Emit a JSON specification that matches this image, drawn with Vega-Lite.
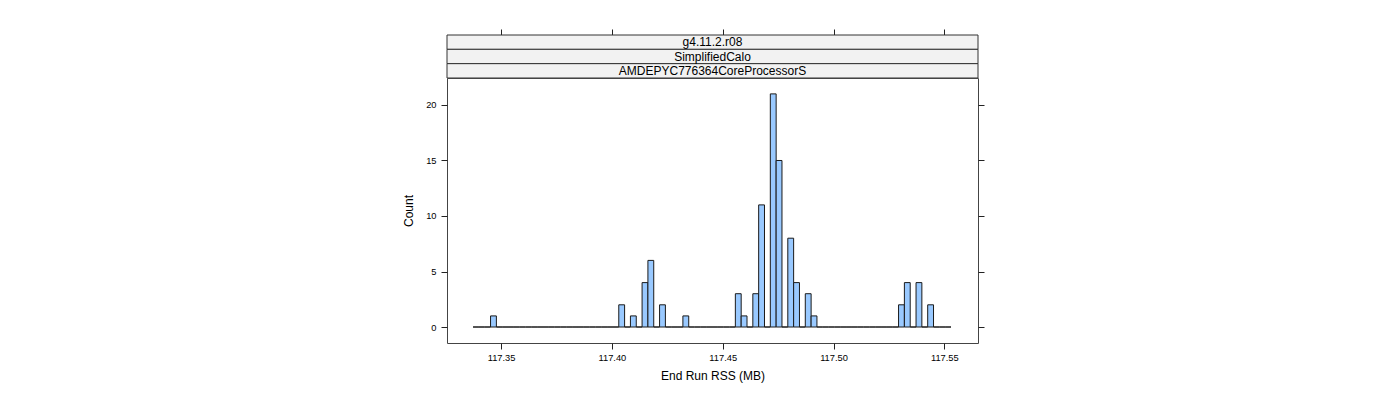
{
  "$schema": "https://vega.github.io/schema/vega-lite/v6.json",
  "autosize": {"type": "none"},
  "padding": {"left": 447, "top": 35, "right": 953, "bottom": 365},
  "background": "white",
  "config": {
    "font": "Liberation Sans",
    "view": {"stroke": "#444444", "strokeWidth": 1},
    "axis": {
      "domain": false,
      "grid": false,
      "tickColor": "#222222",
      "tickSize": 6,
      "labelColor": "black",
      "labelFont": "Liberation Sans",
      "labelFontSize": 9.3,
      "titleFont": "Liberation Sans",
      "titleFontSize": 12,
      "titleFontWeight": "normal",
      "titleColor": "black"
    }
  },
  "datasets": {
    "bins": [
      {"lo": 117.33736, "hi": 117.33999, "n": 0},
      {"lo": 117.33999, "hi": 117.34262, "n": 0},
      {"lo": 117.34262, "hi": 117.34525, "n": 0},
      {"lo": 117.34525, "hi": 117.34788, "n": 1},
      {"lo": 117.34788, "hi": 117.35051, "n": 0},
      {"lo": 117.35051, "hi": 117.35314, "n": 0},
      {"lo": 117.35314, "hi": 117.35577, "n": 0},
      {"lo": 117.35577, "hi": 117.35840, "n": 0},
      {"lo": 117.35840, "hi": 117.36103, "n": 0},
      {"lo": 117.36103, "hi": 117.36366, "n": 0},
      {"lo": 117.36366, "hi": 117.36629, "n": 0},
      {"lo": 117.36629, "hi": 117.36892, "n": 0},
      {"lo": 117.36892, "hi": 117.37155, "n": 0},
      {"lo": 117.37155, "hi": 117.37418, "n": 0},
      {"lo": 117.37418, "hi": 117.37681, "n": 0},
      {"lo": 117.37681, "hi": 117.37944, "n": 0},
      {"lo": 117.37944, "hi": 117.38207, "n": 0},
      {"lo": 117.38207, "hi": 117.38470, "n": 0},
      {"lo": 117.38470, "hi": 117.38733, "n": 0},
      {"lo": 117.38733, "hi": 117.38996, "n": 0},
      {"lo": 117.38996, "hi": 117.39259, "n": 0},
      {"lo": 117.39259, "hi": 117.39522, "n": 0},
      {"lo": 117.39522, "hi": 117.39785, "n": 0},
      {"lo": 117.39785, "hi": 117.40048, "n": 0},
      {"lo": 117.40048, "hi": 117.40311, "n": 0},
      {"lo": 117.40311, "hi": 117.40574, "n": 2},
      {"lo": 117.40574, "hi": 117.40837, "n": 0},
      {"lo": 117.40837, "hi": 117.41100, "n": 1},
      {"lo": 117.41100, "hi": 117.41363, "n": 0},
      {"lo": 117.41363, "hi": 117.41626, "n": 4},
      {"lo": 117.41626, "hi": 117.41889, "n": 6},
      {"lo": 117.41889, "hi": 117.42152, "n": 0},
      {"lo": 117.42152, "hi": 117.42415, "n": 2},
      {"lo": 117.42415, "hi": 117.42678, "n": 0},
      {"lo": 117.42678, "hi": 117.42941, "n": 0},
      {"lo": 117.42941, "hi": 117.43204, "n": 0},
      {"lo": 117.43204, "hi": 117.43467, "n": 1},
      {"lo": 117.43467, "hi": 117.43730, "n": 0},
      {"lo": 117.43730, "hi": 117.43993, "n": 0},
      {"lo": 117.43993, "hi": 117.44256, "n": 0},
      {"lo": 117.44256, "hi": 117.44519, "n": 0},
      {"lo": 117.44519, "hi": 117.44782, "n": 0},
      {"lo": 117.44782, "hi": 117.45045, "n": 0},
      {"lo": 117.45045, "hi": 117.45308, "n": 0},
      {"lo": 117.45308, "hi": 117.45571, "n": 0},
      {"lo": 117.45571, "hi": 117.45834, "n": 3},
      {"lo": 117.45834, "hi": 117.46097, "n": 1},
      {"lo": 117.46097, "hi": 117.46360, "n": 0},
      {"lo": 117.46360, "hi": 117.46623, "n": 3},
      {"lo": 117.46623, "hi": 117.46886, "n": 11},
      {"lo": 117.46886, "hi": 117.47149, "n": 0},
      {"lo": 117.47149, "hi": 117.47412, "n": 21},
      {"lo": 117.47412, "hi": 117.47675, "n": 15},
      {"lo": 117.47675, "hi": 117.47938, "n": 0},
      {"lo": 117.47938, "hi": 117.48201, "n": 8},
      {"lo": 117.48201, "hi": 117.48464, "n": 4},
      {"lo": 117.48464, "hi": 117.48727, "n": 0},
      {"lo": 117.48727, "hi": 117.48990, "n": 3},
      {"lo": 117.48990, "hi": 117.49253, "n": 1},
      {"lo": 117.49253, "hi": 117.49516, "n": 0},
      {"lo": 117.49516, "hi": 117.49779, "n": 0},
      {"lo": 117.49779, "hi": 117.50042, "n": 0},
      {"lo": 117.50042, "hi": 117.50305, "n": 0},
      {"lo": 117.50305, "hi": 117.50568, "n": 0},
      {"lo": 117.50568, "hi": 117.50831, "n": 0},
      {"lo": 117.50831, "hi": 117.51094, "n": 0},
      {"lo": 117.51094, "hi": 117.51357, "n": 0},
      {"lo": 117.51357, "hi": 117.51620, "n": 0},
      {"lo": 117.51620, "hi": 117.51883, "n": 0},
      {"lo": 117.51883, "hi": 117.52146, "n": 0},
      {"lo": 117.52146, "hi": 117.52409, "n": 0},
      {"lo": 117.52409, "hi": 117.52672, "n": 0},
      {"lo": 117.52672, "hi": 117.52935, "n": 0},
      {"lo": 117.52935, "hi": 117.53198, "n": 2},
      {"lo": 117.53198, "hi": 117.53461, "n": 4},
      {"lo": 117.53461, "hi": 117.53724, "n": 0},
      {"lo": 117.53724, "hi": 117.53987, "n": 4},
      {"lo": 117.53987, "hi": 117.54250, "n": 0},
      {"lo": 117.54250, "hi": 117.54513, "n": 2},
      {"lo": 117.54513, "hi": 117.54776, "n": 0},
      {"lo": 117.54776, "hi": 117.55039, "n": 0},
      {"lo": 117.55039, "hi": 117.55302, "n": 0}
    ],
    "strips": [
      {"label": "g4.11.2.r08"},
      {"label": "SimplifiedCalo"},
      {"label": "AMDEPYC776364CoreProcessorS"}
    ]
  },
  "vconcat": [
    {
      "width": 531,
      "height": 43,
      "view": {"stroke": null},
      "layer": [
        {
          "data": {"name": "strips"},
          "mark": {"type": "rect", "fill": "#f2f2f2", "stroke": "#333333", "strokeWidth": 1},
          "encoding": {
            "y": {
              "field": "label",
              "type": "nominal",
              "sort": ["g4.11.2.r08", "SimplifiedCalo", "AMDEPYC776364CoreProcessorS"],
              "scale": {"paddingInner": 0, "paddingOuter": 0},
              "axis": null
            }
          }
        },
        {
          "data": {"name": "strips"},
          "mark": {"type": "text", "font": "Liberation Sans", "fontSize": 12, "color": "black", "baseline": "middle"},
          "encoding": {
            "y": {
              "field": "label",
              "type": "nominal",
              "sort": ["g4.11.2.r08", "SimplifiedCalo", "AMDEPYC776364CoreProcessorS"],
              "scale": {"paddingInner": 0, "paddingOuter": 0},
              "axis": null
            },
            "text": {"field": "label"}
          }
        },
        {
          "data": {"name": "bins"},
          "mark": {"type": "point", "opacity": 0},
          "encoding": {
            "x": {
              "field": "lo",
              "type": "quantitative",
              "scale": {"domain": [117.3256, 117.5652], "nice": false, "zero": false},
              "axis": {"orient": "top", "values": [117.35, 117.4, 117.45, 117.5, 117.55], "labels": false, "title": null}
            }
          }
        }
      ]
    },
    {
      "width": 531,
      "height": 265,
      "data": {"name": "bins"},
      "layer": [
        {
          "mark": {"type": "rect", "fill": "#99c9ff", "stroke": "#1a1a1a", "strokeWidth": 1},
          "encoding": {
            "x": {
              "field": "lo",
              "type": "quantitative",
              "scale": {"domain": [117.3256, 117.5652], "nice": false, "zero": false},
              "axis": {
                "orient": "bottom",
                "values": [117.35, 117.4, 117.45, 117.5, 117.55],
                "format": ".2f",
                "labelPadding": 4,
                "title": "End Run RSS (MB)",
                "titlePadding": 8
              }
            },
            "x2": {"field": "hi"},
            "y": {
              "field": "n",
              "type": "quantitative",
              "scale": {"domain": [-1.44, 22.43], "nice": false, "zero": false},
              "axis": {
                "orient": "left",
                "values": [0, 5, 10, 15, 20],
                "labelPadding": 5,
                "title": "Count",
                "titlePadding": 10
              }
            },
            "y2": {"datum": 0}
          }
        },
        {
          "mark": {"type": "point", "opacity": 0},
          "encoding": {
            "y": {
              "field": "n",
              "type": "quantitative",
              "scale": {"domain": [-1.44, 22.43], "nice": false, "zero": false},
              "axis": {"orient": "right", "values": [0, 5, 10, 15, 20], "labels": false, "title": null}
            }
          }
        }
      ],
      "resolve": {"axis": {"y": "independent"}}
    }
  ],
  "spacing": 0,
  "bounds": "flush"
}
